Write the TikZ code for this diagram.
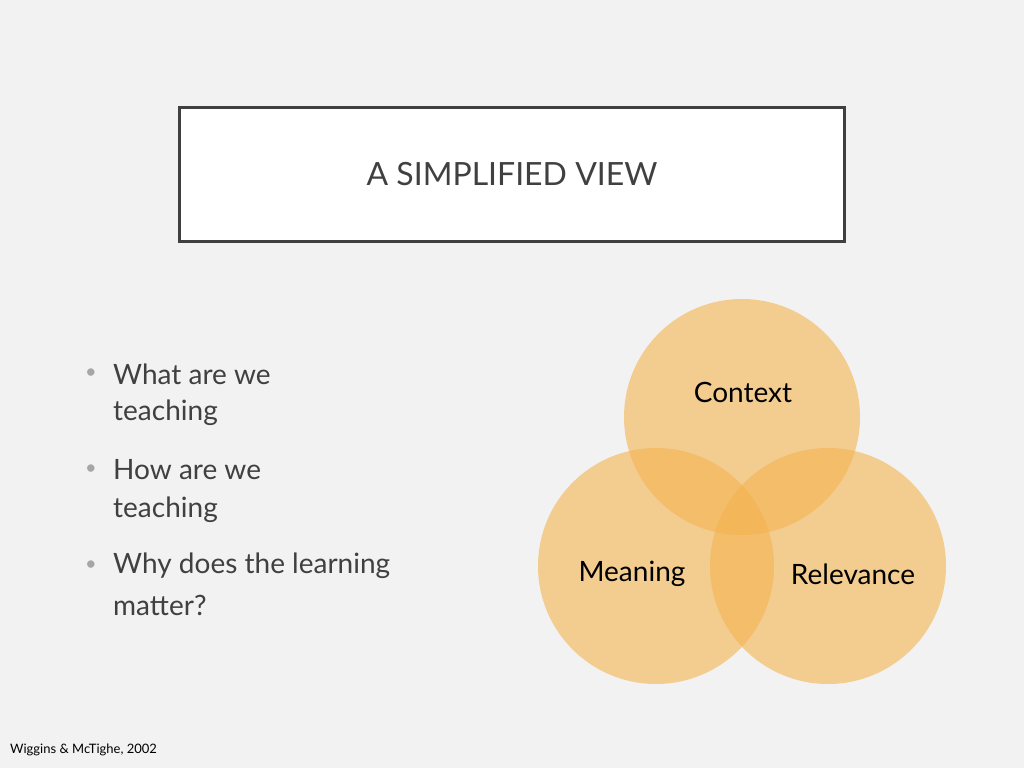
\documentclass[tikz,border=0pt]{standalone}
\usepackage{fontspec}
\setmainfont{Lato}
\definecolor{bg}{HTML}{F2F2F2}
\definecolor{orng}{HTML}{F4B350}
\definecolor{txt}{HTML}{404040}
\begin{document}
\begin{tikzpicture}[x=1pt,y=-1pt,
  venn/.style={circle,minimum size=236pt,fill=orng,fill opacity=0.6,draw=none,inner sep=0},
  lab/.style={font=\fontsize{28}{32}\selectfont,text=black},
  bul/.style={anchor=west,font=\fontsize{28}{32}\selectfont,text=txt,inner sep=0}]
\useasboundingbox[fill=bg] (0,0) rectangle (1024,768);
\node[draw=txt,line width=3pt,fill=white,minimum width=665pt,minimum height=134pt] (title) at (512,174)
  {\fontsize{32}{36}\selectfont\color{txt}A SIMPLIFIED VIEW};
\node[venn] (c) at (742,417) {};
\node[venn] (m) at (656,566) {};
\node[venn] (r) at (828,566) {};
\node[lab] (lc) at (743,392) {Context};
\node[lab] (lm) at (632,574) {Meaning};
\node[lab] (lr) at (853,574) {Relevance};
\foreach \y/\t in {374/What are we,413/teaching/learning?,470/How are we,510/teaching/learning it?,566/Why does the learning,605/matter?}
  \node[bul] at (113,\y) {\t};
\foreach \y in {374,470,566}
  \node[text=gray!70,font=\fontsize{20}{20}\selectfont,inner sep=0] at (91,\y) {•};
\node[anchor=west,font=\fontsize{13}{15}\selectfont,inner sep=0] (foot) at (10,750) {Wiggins \& McTighe, 2002};
\end{tikzpicture}
\end{document}
